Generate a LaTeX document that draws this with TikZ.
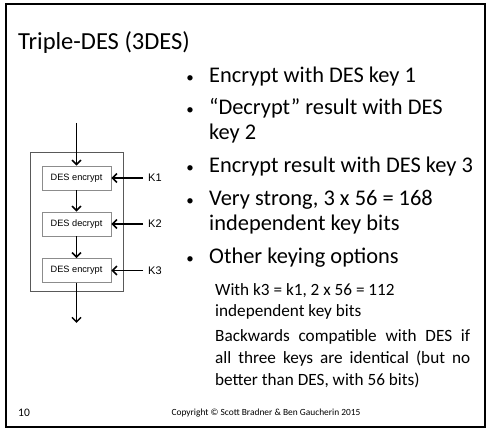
\documentclass[tikz,border=0pt]{standalone}
\usepackage{fontspec}
\setmainfont{Carlito}
\newfontfamily\diagfont{Liberation Sans}
\usetikzlibrary{arrows.meta}

\begin{document}
\begin{tikzpicture}[x=1pt,y=-1pt,
  txt/.style={anchor=base west,inner sep=0pt,font=\fontsize{22.4}{26}\selectfont},
  subtxt/.style={anchor=base west,inner sep=0pt,font=\fontsize{17.2}{20}\selectfont},
  dot/.style={anchor=base,inner sep=0pt,font=\fontsize{15}{18}\selectfont},
  desbox/.style={draw=black!45,line width=0.8pt,minimum width=69pt,minimum height=24pt,
    inner sep=0pt,font=\diagfont\fontsize{9.2}{10}\selectfont},
  keylbl/.style={anchor=west,inner sep=0pt,font=\diagfont\fontsize{11}{12}\selectfont},
  flow/.style={line width=1.7pt,-{Straight Barb[length=4.5pt,width=9pt,line width=1.5pt]}}]
\useasboundingbox (0,0) rectangle (488,430);

% slide frame
\draw[line width=2.2pt] (6,4) rectangle (485,427);

% title
\node[anchor=base west,inner sep=0pt,font=\fontsize{24.5}{28}\selectfont] (title) at (18,50) {Triple-DES (3DES)};

% bullet list
\node[dot] (b1) at (190,83) {•};
\node[txt] (t1) at (209,83) {Encrypt with DES key 1};
\node[dot] (b2) at (190,115) {•};
\node[txt] (t2a) at (209,115) {“Decrypt” result with DES};
\node[txt] (t2b) at (209,140) {key 2};
\node[dot] (b3) at (190,173) {•};
\node[txt] (t3) at (209,173) {Encrypt result with DES key 3};
\node[dot] (b4) at (190,206) {•};
\node[txt] (t4a) at (209,206) {Very strong, 3 x 56 = 168};
\node[txt] (t4b) at (209,231) {independent key bits};
\node[dot] (b5) at (190,264) {•};
\node[txt] (t5) at (209,264) {Other keying options};

% sub-level notes
\node[subtxt] (s1a) at (215,296) {With k3 = k1, 2 x 56 = 112};
\node[subtxt] (s1b) at (215,317) {independent key bits};
\node[subtxt] (s2a) at (215,342) {\makebox[255pt][s]{Backwards compatible with DES if}};
\node[subtxt] (s2b) at (215,364) {\makebox[255pt][s]{all three keys are identical (but no}};
\node[subtxt] (s2c) at (215,386) {better than DES, with 56 bits)};

% footer
\node[anchor=base west,inner sep=0pt,font=\fontsize{11.5}{13}\selectfont] (num) at (18,417) {10};
\node[anchor=base,inner sep=0pt,font=\fontsize{9.4}{10}\selectfont] (copy) at (266,416) {Copyright © Scott Bradner \& Ben Gaucherin 2015};

% 3DES block diagram
\draw[draw=black!65,line width=0.8pt] (30,152) rectangle (123,291);
\node[desbox] (e1) at (76.5,178) {DES encrypt};
\node[desbox] (e2) at (76.5,224) {DES decrypt};
\node[desbox] (e3) at (76.5,270.5) {DES encrypt};

\coordinate (in) at (76.5,123);
\coordinate (out) at (76.5,323);
\draw[flow] (in) -- (e1);
\draw[flow] (e1) -- (e2);
\draw[flow] (e2) -- (e3);
\draw[flow] (e3) -- (out);

\node[keylbl] (k1) at (148,178) {K1};
\node[keylbl] (k2) at (148,224) {K2};
\node[keylbl] (k3) at (148,270.5) {K3};
\draw[flow] (k1.west) ++(-5,0) -- (e1.east);
\draw[flow] (k2.west) ++(-5,0) -- (e2.east);
\draw[flow] (k3.west) ++(-5,0) -- (e3.east);
\end{tikzpicture}
\end{document}
